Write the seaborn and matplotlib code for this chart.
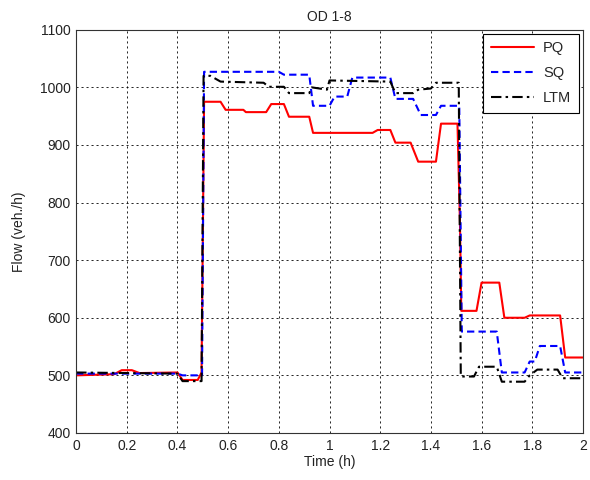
import pandas as pd
import numpy as np
import matplotlib
matplotlib.use("Agg")
import matplotlib.pyplot as plt
import seaborn as sns

# breakpoints (time in h, flow in veh./h)
pq_t = [0, 0.15, 0.18, 0.22, 0.25, 0.40, 0.42, 0.48, 0.495, 0.50, 0.505, 0.57, 0.59, 0.66, 0.67,
        0.75, 0.77, 0.82, 0.84, 0.92, 0.935, 1.17, 1.19, 1.24, 1.26, 1.32, 1.35, 1.42, 1.44,
        1.505, 1.515, 1.52, 1.58, 1.60, 1.67, 1.69, 1.77, 1.79, 1.91, 1.93, 2.0]
pq_v = [500, 502, 509, 509, 504, 505, 492, 492, 505, 740, 975, 975, 961, 961, 957,
        957, 971, 971, 949, 949, 921, 921, 926, 926, 904, 904, 871, 871, 937,
        937, 760, 612, 612, 661, 661, 600, 600, 604, 604, 531, 531]

sq_t = [0, 0.40, 0.42, 0.497, 0.505, 0.80, 0.82, 0.92, 0.935, 1.0, 1.02, 1.07, 1.09, 1.24,
        1.26, 1.33, 1.36, 1.42, 1.44, 1.512, 1.522, 1.66, 1.68, 1.77, 1.79, 1.81, 1.83,
        1.91, 1.93, 2.0]
sq_v = [503, 503, 500, 500, 1027, 1027, 1022, 1022, 968, 968, 984, 984, 1017, 1017,
        980, 980, 952, 952, 968, 968, 576, 576, 505, 505, 524, 524, 551,
        551, 505, 505]

ltm_t = [0, 0.40, 0.42, 0.495, 0.503, 0.53, 0.57, 0.74, 0.76, 0.82, 0.84, 0.92, 0.93, 0.99,
         1.0, 1.24, 1.26, 1.33, 1.35, 1.40, 1.42, 1.51, 1.518, 1.57, 1.59, 1.66, 1.68,
         1.77, 1.79, 1.82, 1.90, 1.92, 2.0]
ltm_v = [505, 503, 490, 490, 1020, 1020, 1010, 1008, 1001, 1001, 990, 990, 1000, 996,
         1012, 1010, 990, 990, 996, 998, 1008, 1008, 498, 498, 515, 515, 489,
         489, 500, 510, 510, 495, 495]

df = pd.concat([
    pd.DataFrame({"t": pq_t, "flow": pq_v, "model": "PQ"}),
    pd.DataFrame({"t": sq_t, "flow": sq_v, "model": "SQ"}),
    pd.DataFrame({"t": ltm_t, "flow": ltm_v, "model": "LTM"}),
], ignore_index=True)

sns.set_style("white")
plt.rcParams["font.family"] = ["Liberation Sans", "DejaVu Sans"]

fig = plt.figure(figsize=(5.9, 4.8), dpi=100)
ax = fig.add_axes([0.129, 0.098, 0.859, 0.840])

sns.lineplot(data=df, x="t", y="flow", hue="model", style="model",
             palette={"PQ": "#ff0000", "SQ": "#0000ff", "LTM": "#000000"},
             dashes={"PQ": "", "SQ": (3.5, 2), "LTM": (5, 2, 1.2, 2)},
             estimator=None, sort=False, linewidth=1.5, ax=ax)

ax.set_xlim(0, 2)
ax.set_ylim(400, 1100)
ax.set_xticks(np.arange(0, 2.01, 0.2))
ax.set_xticklabels(["0", "0.2", "0.4", "0.6", "0.8", "1", "1.2", "1.4", "1.6", "1.8", "2"])
ax.set_yticks(np.arange(400, 1101, 100))
ax.grid(True, color="black", linestyle=(0, (2.5, 3.5)), linewidth=0.6)
ax.tick_params(direction="in", length=4, labelsize=10, colors="#222222", pad=4)
for s in ax.spines.values():
    s.set_color("#333333")
    s.set_linewidth(0.8)

ax.set_xlabel("Time (h)", fontsize=10, color="#222222", labelpad=2)
ax.set_ylabel("Flow (veh./h)", fontsize=10, color="#222222", labelpad=10)
ax.set_title("OD 1-8", fontsize=10, color="#222222", pad=6)

leg = ax.legend(loc="upper right", fontsize=10.5, frameon=True, fancybox=False,
                edgecolor="black", borderaxespad=0.3, handlelength=3.0,
                labelspacing=0.75, borderpad=0.5, handletextpad=0.6)
leg.get_frame().set_linewidth(0.8)
leg.get_frame().set_alpha(1)

fig.savefig("out.png", dpi=100)
